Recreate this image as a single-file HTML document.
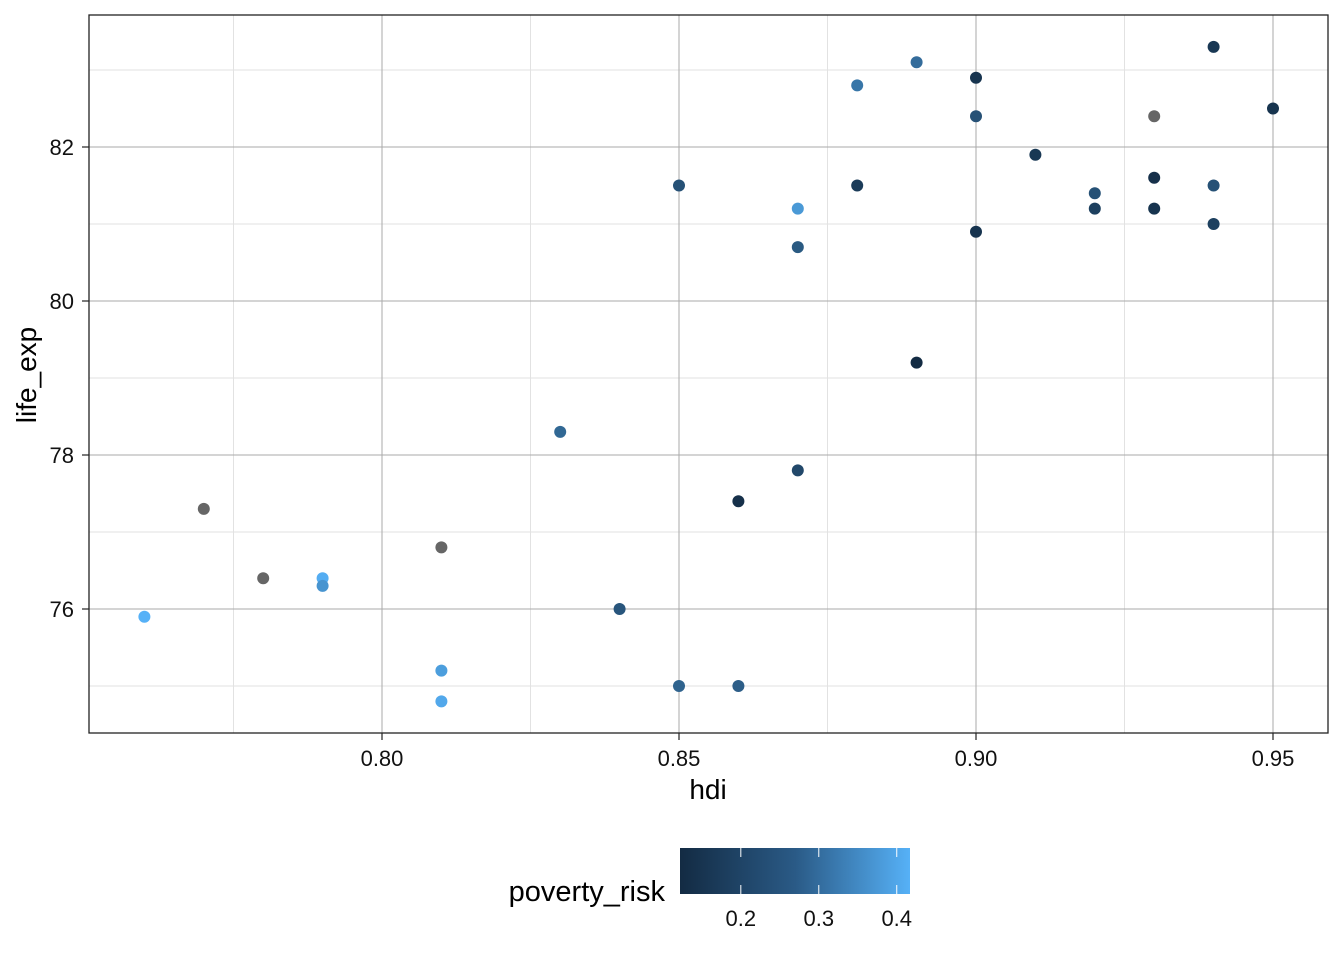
<!DOCTYPE html>
<html><head><meta charset="utf-8"><style>
body{margin:0;background:#fff;font-family:"Liberation Sans",Arial,sans-serif;}
</style></head><body>
<svg id="chart" width="1344" height="960" xmlns="http://www.w3.org/2000/svg">
<defs><linearGradient id="cg" x1="0" x2="1" y1="0" y2="0"><stop offset="0" stop-color="#132B43"/><stop offset="0.5" stop-color="#2A5A86"/><stop offset="1" stop-color="#56B1F7"/></linearGradient></defs>
<g id="grid"></g>
<g id="pts"></g>
<rect x="89" y="15" width="1239" height="718" fill="none" stroke="#222" stroke-width="1.3"/>
<g id="axes"></g>
<text x="708" y="799" font-size="28" text-anchor="middle">hdi</text>
<text transform="translate(36,375) rotate(-90)" font-size="28" text-anchor="middle">life_exp</text>
<g>
<text x="665" y="901" font-size="29" text-anchor="end">poverty_risk</text>
<rect x="680" y="848" width="230" height="46" fill="url(#cg)"/>
<g id="cbt"></g>
</g>
</svg>
<script>
const hdi=[0.76,0.77,0.78,0.79,0.79,0.81,0.81,0.81,0.83,0.84,0.85,0.85,0.86,0.86,0.87,0.87,0.87,0.88,0.88,0.89,0.89,0.90,0.90,0.90,0.91,0.92,0.92,0.93,0.93,0.93,0.94,0.94,0.94,0.95];
const lifeExp=[75.9,77.3,76.4,76.4,76.3,76.8,75.2,74.8,78.3,76.0,81.5,75.0,77.4,75.0,81.2,80.7,77.8,82.8,81.5,83.1,79.2,82.9,82.4,80.9,81.9,81.4,81.2,82.4,81.6,81.2,83.3,81.5,81.0,82.5];
const poverty=[0.42,null,null,0.41,0.36,null,0.38,0.40,0.27,0.23,0.22,0.26,0.14,0.25,0.37,0.24,0.20,0.30,0.17,0.28,0.12,0.15,0.22,0.15,0.16,0.22,0.18,null,0.14,0.15,0.16,0.22,0.18,0.15];
const xTicks=[0.80,0.85,0.90,0.95];
const yTicks=[76,78,80,82];
const xMinor=[0.775,0.825,0.875,0.925];
const yMinor=[75,77,79,81,83];
const cbTicks=[0.2,0.3,0.4];
const cbMin=0.122, cbMax=0.417;
const NS="http://www.w3.org/2000/svg";
const X=v=>382+(v-0.8)*5940, Y=v=>301-(v-80)*77, CB=v=>680+(v-cbMin)/(cbMax-cbMin)*230;
function mk(t,a,p){const e=document.createElementNS(NS,t);for(const k in a)e.setAttribute(k,a[k]);p.appendChild(e);return e;}
function col(v){if(v==null)return"#666666";let t=Math.max(0,Math.min(1,(v-cbMin)/(cbMax-cbMin)));t=Math.pow(t,1.15);const a=[0x13,0x2B,0x43],b=[0x56,0xB1,0xF7];return"rgb("+a.map((c,i)=>Math.round(c+(b[i]-c)*t)).join(",")+")";}
const g=document.getElementById('grid'),ax=document.getElementById('axes'),pts=document.getElementById('pts'),cb=document.getElementById('cbt');
xMinor.forEach(v=>{const l=mk('line',{x1:X(v),x2:X(v),y1:15,y2:733,stroke:'#e2e2e2','stroke-width':1},g);

});
yMinor.forEach(v=>{const l=mk('line',{x1:89,x2:1328,y1:Y(v),y2:Y(v),stroke:'#e2e2e2','stroke-width':1},g);

});
xTicks.forEach(v=>{const l=mk('line',{x1:X(v),x2:X(v),y1:15,y2:733,stroke:'#aaaaaa','stroke-width':1},g);


mk('line',{x1:X(v),x2:X(v),y1:733,y2:740,stroke:'#222','stroke-width':1.2},ax);
const t=mk('text',{x:X(v),y:766,'font-size':22,'text-anchor':'middle',fill:'#111'},ax);t.textContent=v.toFixed(2);

});
yTicks.forEach(v=>{const l=mk('line',{x1:89,x2:1328,y1:Y(v),y2:Y(v),stroke:'#aaaaaa','stroke-width':1},g);


mk('line',{x1:82,x2:89,y1:Y(v),y2:Y(v),stroke:'#222','stroke-width':1.2},ax);
const t=mk('text',{x:74,y:Y(v)+8,'font-size':22,'text-anchor':'end',fill:'#111'},ax);t.textContent=v;

});
hdi.forEach((h,i)=>{const c=mk('circle',{cx:X(h),cy:Y(lifeExp[i]),r:6,fill:col(poverty[i])},pts);

});
cbTicks.forEach(v=>{mk('line',{x1:CB(v),x2:CB(v),y1:848,y2:857,stroke:'#fff'},cb);mk('line',{x1:CB(v),x2:CB(v),y1:885,y2:894,stroke:'#fff'},cb);
const t=mk('text',{x:CB(v),y:926,'font-size':22,'text-anchor':'middle',fill:'#111'},cb);t.textContent=v.toFixed(1);

});
</script>
</body></html>
